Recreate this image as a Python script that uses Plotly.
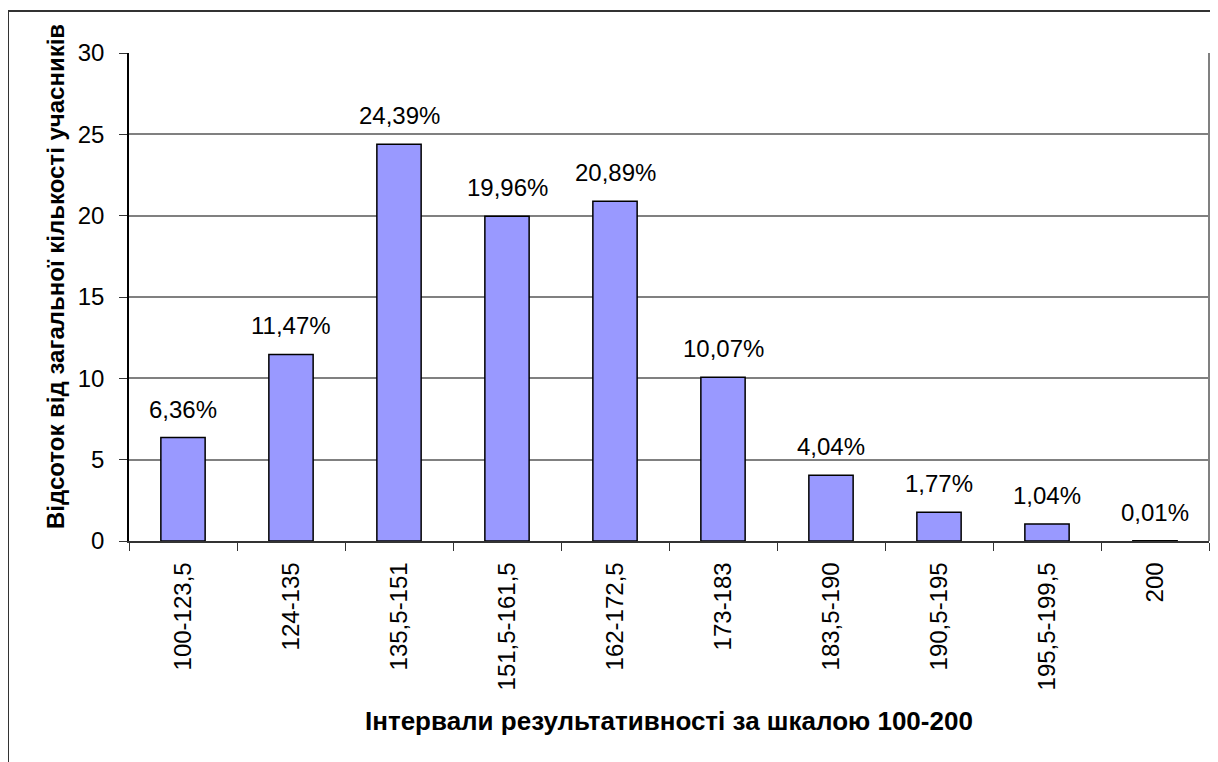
import plotly.graph_objects as go

categories = ["100-123,5", "124-135", "135,5-151", "151,5-161,5", "162-172,5",
              "173-183", "183,5-190", "190,5-195", "195,5-199,5", "200"]
values = [6.36, 11.47, 24.39, 19.96, 20.89, 10.07, 4.04, 1.77, 1.04, 0.01]
y_ticks = [0, 5, 10, 15, 20, 25, 30]
x_title = "Інтервали результативності за шкалою 100-200"
y_title = "Відсоток від загальної кількості учасників"

OFF = 8  # page body margin
W, H = 1210, 754
L, R, T, B = 121, 9, 45, 221
pw, ph = W - L - R, H - T - B

def px_x(p):
    return (p - OFF - L) / pw

def px_y(p):
    return (H - B - (p - OFF)) / ph

FONT = "Liberation Sans, Arial, sans-serif"

fig = go.Figure()
fig.add_trace(go.Bar(
    x=categories, y=values,
    marker=dict(color="#9999FF", line=dict(color="black", width=1.5)),
    width=0.41,
    hoverinfo="x+y",
))

for i, v in enumerate(values):
    fig.add_annotation(
        x=i, y=v, xref="x", yref="y",
        text=f"{v:.2f}%".replace(".", ","),
        showarrow=False, yanchor="bottom", yshift=13,
        font=dict(size=24, color="black", family=FONT),
    )

fig.add_annotation(
    x=px_x(55), y=px_y(277), xref="paper", yref="paper",
    text=f"<b>{y_title}</b>", textangle=-90, showarrow=False,
    xanchor="center", yanchor="middle",
    font=dict(size=24, color="black", family=FONT),
)
fig.add_annotation(
    x=0.5, y=px_y(721), xref="paper", yref="paper",
    text=f"<b>{x_title}</b>", showarrow=False,
    xanchor="center", yanchor="middle",
    font=dict(size=26, color="black", family=FONT),
)

# outer chart frame
fig.add_shape(type="rect", xref="paper", yref="paper",
              x0=px_x(8), y0=px_y(H + 40), x1=px_x(W + 40), y1=px_y(11),
              line=dict(color="#333333", width=2), layer="below")
# right border of plot area
fig.add_shape(type="line", xref="paper", yref="paper",
              x0=1, x1=1, y0=0, y1=1,
              line=dict(color="#808080", width=2))

fig.update_layout(
    width=W, height=H,
    margin=dict(l=L, r=R, t=T, b=B),
    paper_bgcolor="white", plot_bgcolor="white",
    showlegend=False,
    font=dict(family=FONT, size=24, color="black"),
    xaxis=dict(
        type="category", tickangle=-90, range=[-0.5, len(categories) - 0.5],
        showline=True, linecolor="#333333", linewidth=1.5,
        ticks="outside", tickson="boundaries", ticklen=8, tickcolor="#333333",
        showgrid=False, tickfont=dict(size=24, color="black"),
        ticklabelstandoff=10,
    ),
    yaxis=dict(
        range=[0, 30], tickvals=y_ticks,
        showline=True, linecolor="black", linewidth=1.5,
        ticks="outside", ticklen=8, tickcolor="#333333",
        showgrid=True, gridcolor="#808080", gridwidth=1.5,
        zeroline=False, tickfont=dict(size=24, color="black"),
        ticklabelstandoff=10,
    ),
)

fig.write_html("out.html")
